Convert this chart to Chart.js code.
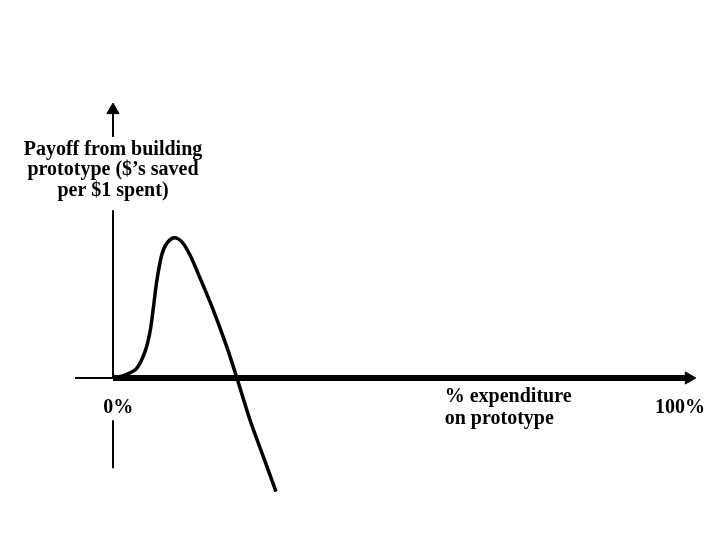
<!DOCTYPE html>
<html>
<head>
<meta charset="utf-8">
<script src="https://cdn.jsdelivr.net/npm/chart.js@4"></script>
<style>
  body { margin: 0; background: #fff; }
  #wrap { width: 720px; height: 540px; }
</style>
</head>
<body>
<div id="wrap"><canvas id="grafico" width="720" height="540"></canvas></div>
<script>
// curva de payoff: % gasto (x) vs ahorro por $1 gastado (y)
const gastoX = [0, 2.05, 4.06, 5.48, 6.34, 6.90, 7.48, 8.34, 9.20, 10.50, 11.76, 13.18, 14.90, 17.17, 19.47, 21.18, 23.46, 25.74, 27.91]
const payoffY = [0, 0.021, 0.069, 0.187, 0.328, 0.494, 0.683, 0.872, 0.955, 0.995, 0.967, 0.872, 0.709, 0.482, 0.222, 0.005, -0.298, -0.558, -0.806]

const tituloEjeY = ["Payoff from building", "prototype ($\u2019s saved", "per $1 spent)"]
const tituloEjeX = ["% expenditure", "on prototype"]
const ticksX = ["0%", "100%"]

const ctx = document.getElementById('grafico')

const curva = gastoX.map((x, i) => ({ x: x, y: payoffY[i] }))

const linea = (data, ancho) => ({
  data: data,
  showLine: true,
  borderColor: "#000",
  backgroundColor: "#000",
  borderWidth: ancho,
  pointRadius: 0,
  pointBorderWidth: 1,
  tension: 0
})

// ejes dibujados como datasets
const ejeXfino = linea([{ x: -6.5, y: 0 }, { x: 0, y: 0 }], 2)
const ejeXgrueso = linea([{ x: 0, y: 0 }, { x: 98.6, y: 0 }], 6)
ejeXgrueso.pointRadius = [0, 7]
ejeXgrueso.pointStyle = 'triangle'
ejeXgrueso.rotation = 90
const ejeYabajo = linea([{ x: 0, y: -0.64 }, { x: 0, y: -0.30 }], 2)
const ejeYmedio = linea([{ x: 0, y: 0 }, { x: 0, y: 1.19 }], 2)
const ejeYarriba = linea([{ x: 0, y: 1.71 }, { x: 0, y: 1.90 }], 2)
ejeYarriba.pointRadius = [0, 7]
ejeYarriba.pointStyle = 'triangle'

const datasetCurva = linea(curva, 3.5)
datasetCurva.tension = 0.3

const textos = {
  id: 'textos',
  afterDatasetsDraw(chart) {
    const c = chart.ctx
    const sx = chart.scales.x, sy = chart.scales.y
    c.save()
    c.fillStyle = "#000"
    c.font = "bold 20px 'Liberation Serif', 'Times New Roman', serif"
    c.textBaseline = "middle"
    c.textAlign = "center"
    const yLineas = [1.62, 1.473, 1.325]
    tituloEjeY.forEach((t, i) => c.fillText(t, sx.getPixelForValue(0), sy.getPixelForValue(yLineas[i])))
    c.fillText(ticksX[0], sx.getPixelForValue(0.9), sy.getPixelForValue(-0.21))
    c.fillText(ticksX[1], sx.getPixelForValue(97.1), sy.getPixelForValue(-0.21))
    c.textAlign = "left"
    c.fillText(tituloEjeX[0], sx.getPixelForValue(56.8), sy.getPixelForValue(-0.135))
    c.fillText(tituloEjeX[1], sx.getPixelForValue(56.8), sy.getPixelForValue(-0.29))
    c.restore()
  }
}

new Chart(ctx, {
  type: 'scatter',
  data: {
    datasets: [ejeXfino, ejeXgrueso, ejeYabajo, ejeYmedio, ejeYarriba, datasetCurva]
  },
  options: {
    responsive: false,
    animation: false,
    layout: { padding: 0, autoPadding: false },
    plugins: { legend: { display: false }, tooltip: { enabled: false } },
    scales: {
      x: { type: 'linear', min: -19.35, max: 103.94, display: false },
      y: { type: 'linear', min: -1.149, max: 2.681, display: false }
    },
    clip: false
  },
  plugins: [textos]
})
</script>
</body>
</html>
